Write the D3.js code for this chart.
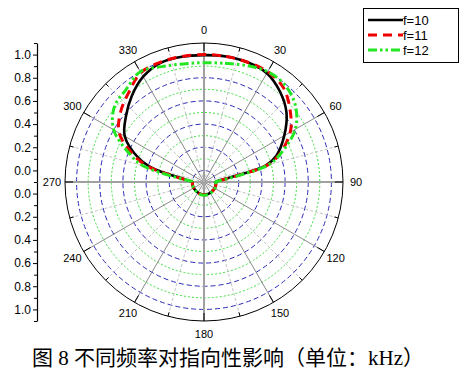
<!DOCTYPE html>
<html>
<head>
<meta charset="utf-8">
<title>Directivity</title>
<script src="https://d3js.org/d3.v7.min.js"></script>
<style>
	body { margin: 0; background: #fff; }
	svg text { font-family: "Liberation Sans", Arial, sans-serif; fill: #000; }
	.caption { font-family: "Liberation Serif", "Noto Sans CJK SC", serif !important; }
</style>
</head>
<body>
<div id="chart"></div>
<script>
// angles in degrees, 0 = top, clockwise
var angles = [0, 10, 20, 30, 40, 50, 60, 70, 75, 80, 85, 90, 100, 110, 120, 130, 140, 150, 160, 170,
	180, 190, 200, 210, 220, 230, 240, 250, 260, 270, 275, 280, 285, 290, 300, 310, 320, 330, 340, 350];

var f10 = [0.995, 1.0, 1.0, 0.985, 0.92, 0.83, 0.70, 0.565, 0.45, 0.13, 0.025, 0.0, 0.004, 0.005, 0.006, 0.006, 0.007, 0.008, 0.009, 0.01,
	0.01, 0.009, 0.007, 0.005, 0.003, 0.003, 0.003, 0.003, 0.002, 0.0, 0.03, 0.12, 0.36, 0.50, 0.69, 0.78, 0.87, 0.95, 0.995, 0.998];
var f11 = [1.0, 1.0, 1.0, 1.0, 0.965, 0.87, 0.76, 0.59, 0.47, 0.16, 0.035, 0.0, 0.005, 0.006, 0.007, 0.007, 0.008, 0.009, 0.01, 0.011,
	0.011, 0.01, 0.008, 0.006, 0.004, 0.004, 0.003, 0.003, 0.002, 0.0, 0.03, 0.14, 0.38, 0.53, 0.745, 0.84, 0.91, 0.99, 1.0, 1.0];
var f12 = [0.93, 0.94, 0.97, 1.0, 0.99, 0.93, 0.81, 0.60, 0.48, 0.18, 0.04, 0.0, 0.006, 0.008, 0.009, 0.01, 0.011, 0.012, 0.013, 0.014,
	0.014, 0.013, 0.011, 0.008, 0.005, 0.004, 0.003, 0.003, 0.002, 0.0, 0.03, 0.17, 0.45, 0.57, 0.80, 0.91, 0.945, 1.0, 0.96, 0.935];

var seriesNames = ['f=10', 'f=11', 'f=12'];
var angleLabels = ['0', '30', '60', '90', '120', '150', '180', '210', '240', '270', '300', '330'];
var radialTicks = [0, 0.2, 0.4, 0.6, 0.8, 1.0];
var caption = '图 8 不同频率对指向性影响（单位：kHz）';

var width = 466, height = 376;
var cx = 204, cy = 182, R = 139;

var svg = d3.select('#chart').append('svg')
	.attr('width', width)
	.attr('height', height);

var r = d3.scaleLinear().domain([-0.1, 1.1]).range([0, R]);
function rad(deg) { return deg * Math.PI / 180; }

var g = svg.append('g').attr('transform', 'translate(' + cx + ',' + cy + ')');

// rings
var ringVals = d3.range(0, 11).map(function(i) { return i / 10; });
g.selectAll('circle.ring')
	.data(ringVals)
  .enter().append('circle')
	.attr('class', 'ring')
	.attr('r', function(d) { return r(d); })
	.attr('fill', 'none')
	.attr('stroke', function(d, i) { return i % 2 === 0 ? '#2b2bb8' : '#3ddf3d'; })
	.attr('stroke-width', 1)
	.attr('stroke-dasharray', function(d, i) { return i % 2 === 0 ? '5,3' : '2,2'; });

// spokes
var spokeAngles = d3.range(0, 360, 15);
g.selectAll('line.spoke')
	.data(spokeAngles)
  .enter().append('line')
	.attr('x1', 0).attr('y1', 0)
	.attr('x2', function(d) { return R * Math.sin(rad(d)); })
	.attr('y2', function(d) { return -R * Math.cos(rad(d)); })
	.attr('stroke', function(d) { return d % 90 === 0 ? '#a0a0a0' : (d % 30 === 0 ? '#8a8a8a' : '#c4c4c4'); })
	.attr('stroke-width', function(d) { return d % 90 === 0 ? 2 : 1; })
	.attr('stroke-dasharray', function(d) { return d % 30 === 0 ? null : '3,2'; });

// outer circle + ticks
g.append('circle').attr('r', R).attr('fill', 'none').attr('stroke', '#000').attr('stroke-width', 1);
g.selectAll('line.otick')
	.data(spokeAngles)
  .enter().append('line')
	.attr('x1', function(d) { return R * Math.sin(rad(d)); })
	.attr('y1', function(d) { return -R * Math.cos(rad(d)); })
	.attr('x2', function(d) { var l = d % 30 === 0 ? 8 : 4; return (R - l) * Math.sin(rad(d)); })
	.attr('y2', function(d) { var l = d % 30 === 0 ? 8 : 4; return -(R - l) * Math.cos(rad(d)); })
	.attr('stroke', '#000').attr('stroke-width', 1);

// angle labels
g.selectAll('text.alabel')
	.data(angleLabels)
  .enter().append('text')
	.attr('x', function(d) { return 152 * Math.sin(rad(+d)); })
	.attr('y', function(d) { return -152 * Math.cos(rad(+d)); })
	.attr('dy', '0.35em')
	.attr('text-anchor', 'middle')
	.style('font-size', '11px')
	.text(function(d) { return d; });

// curves
var line = d3.lineRadial()
	.angle(function(d) { return rad(d[0]); })
	.radius(function(d) { return r(d[1]); })
	.curve(d3.curveCatmullRomClosed.alpha(0.5));

var styles = [
	{ color: '#000000', width: 2.6, dash: null },
	{ color: '#ee0000', width: 3, dash: '9,6' },
	{ color: '#22e622', width: 3, dash: '9,3,2.5,3,2.5,3' }
];
[f10, f11, f12].forEach(function(vals, i) {
	var pts = angles.map(function(a, j) { return [a, vals[j]]; });
	g.append('path')
		.attr('d', line(pts))
		.attr('fill', 'none')
		.attr('stroke', styles[i].color)
		.attr('stroke-width', styles[i].width)
		.attr('stroke-dasharray', styles[i].dash);
});

// radial axes on the left
var axisX = 37;
var yTop = d3.scaleLinear().domain([-0.1, 1.1]).range([cy, cy - R]);
var yBot = d3.scaleLinear().domain([-0.1, 1.1]).range([cy, cy + R]);
var minorTicks = [-0.1, 0.1, 0.3, 0.5, 0.7, 0.9, 1.1];
[yTop, yBot].forEach(function(sc) {
	var ax = svg.append('g').attr('transform', 'translate(' + axisX + ',0)')
		.call(d3.axisLeft(sc).tickValues(radialTicks).tickFormat(d3.format('.1f'))
			.tickSize(4).tickSizeOuter(0).tickPadding(2));
	ax.selectAll('text').style('font-size', '12px').style('font-family', '"Liberation Sans", Arial, sans-serif');
	ax.select('.domain').attr('stroke-width', 1.2);
	svg.append('g').attr('transform', 'translate(' + axisX + ',0)')
		.call(d3.axisLeft(sc).tickValues(minorTicks).tickFormat('').tickSize(3).tickSizeOuter(0))
		.select('.domain').remove();
});

// legend
var lg = svg.append('g');
lg.append('rect').attr('x', 363.5).attr('y', 8.5).attr('width', 95).attr('height', 54)
	.attr('fill', '#fff').attr('stroke', '#000').attr('stroke-width', 1);
seriesNames.forEach(function(name, i) {
	var y = 20 + i * 15;
	lg.append('line').attr('x1', 368).attr('x2', 403).attr('y1', y).attr('y2', y)
		.attr('stroke', styles[i].color).attr('stroke-width', styles[i].width)
		.attr('stroke-dasharray', styles[i].dash);
	lg.append('text').attr('x', 403).attr('y', y).attr('dy', '0.36em')
		.style('font-size', '13px').text(name);
});

// caption
svg.append('text').attr('class', 'caption')
	.attr('x', 32).attr('y', 365)
	.style('font-size', '21px')
	.text(caption);
</script>
</body>
</html>
